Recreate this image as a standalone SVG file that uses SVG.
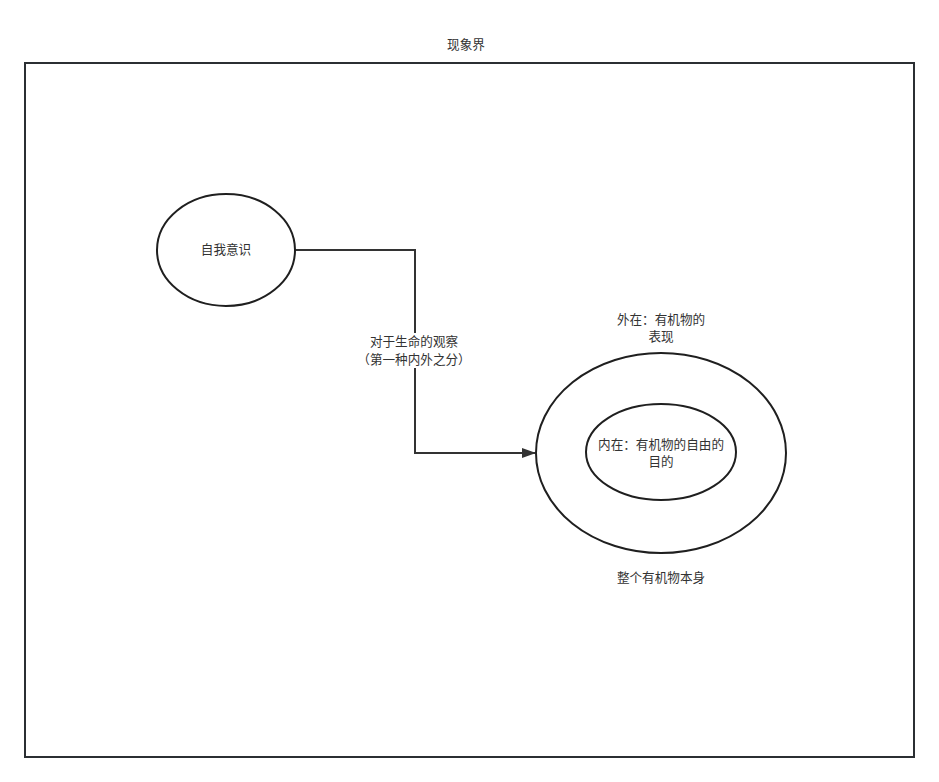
<svg xmlns="http://www.w3.org/2000/svg" width="939" height="782" viewBox="0 0 939 782">
  <style>
    .shape { fill: #ffffff; stroke: #1f1f1f; stroke-width: 2; }
    .frame { fill: none; stroke: #2b2f33; stroke-width: 2; }
    .edge { fill: none; stroke: #333333; stroke-width: 2; }
    text { font-family: "Noto Sans CJK SC", "Liberation Sans", sans-serif; font-size: 12.6px; fill: #333333; text-anchor: middle; }
  </style>
  <defs>
    <marker id="arrow" markerWidth="14" markerHeight="12" refX="13" refY="6" orient="auto" markerUnits="userSpaceOnUse">
      <path d="M0,1 L14,6 L0,11 Z" fill="#333333"/>
    </marker>
  </defs>
  <rect width="939" height="782" fill="#ffffff"/>

  <g id="phenomenal-world">
    <rect class="frame" x="25" y="63" width="889" height="694"/>
    <text x="466" y="49">现象界</text>
  </g>

  <g id="edges">
    <path class="edge" d="M295,250 H415 V453 H535" marker-end="url(#arrow)"/>
    <rect x="360" y="333" width="110" height="35" fill="#ffffff"/>
    <text x="414" y="346">对于生命的观察</text>
    <text x="414" y="363.5">（第一种内外之分）</text>
  </g>

  <g id="self-consciousness">
    <ellipse class="shape" cx="226" cy="250" rx="69" ry="56"/>
    <text x="226" y="254">自我意识</text>
  </g>

  <g id="organism">
    <ellipse class="shape" cx="661" cy="453" rx="125" ry="100"/>
    <text x="661" y="323.5">外在：有机物的</text>
    <text x="661" y="341">表现</text>
    <text x="661" y="582">整个有机物本身</text>
  </g>

  <g id="inner-purpose">
    <ellipse class="shape" cx="661" cy="452" rx="75" ry="48"/>
    <text x="661" y="448.5">内在：有机物的自由的</text>
    <text x="661" y="466">目的</text>
  </g>
</svg>
